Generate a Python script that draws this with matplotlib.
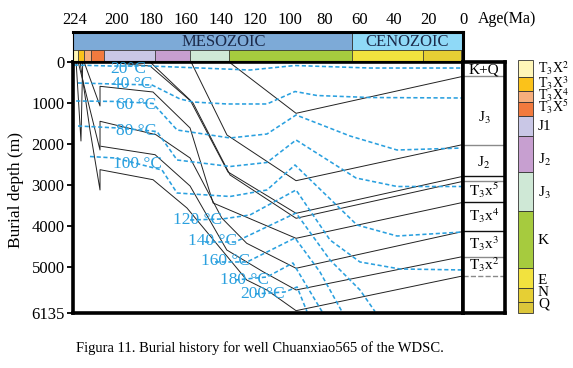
import matplotlib
matplotlib.use('Agg')
import matplotlib.pyplot as plt
from matplotlib.patches import Rectangle

plt.rcParams['font.family'] = ['Liberation Serif', 'DejaVu Serif']
plt.rcParams['mathtext.fontset'] = 'stix'

# ---------------- data ----------------
age_ticks = [224, 200, 180, 160, 140, 120, 100, 80, 60, 40, 20, 0]
depth_ticks = [0, 1000, 2000, 3000, 4000, 5000, 6135]

eras = ['MESOZOIC', 'CENOZOIC']
era_start = [225.2, 64.1]
era_end = [64.1, 0]
era_label_age = [138, 32]

periods = ['T3X2', 'T3X3', 'T3X4', 'T3X5', 'J1', 'J2', 'J3', 'K', 'E', 'N', 'Q']
period_start = [225.2, 222.3, 218.8, 214.8, 207.3, 177.8, 157.6, 135.1, 64.1, 23.1, 1.0]
period_end = [222.3, 218.8, 214.8, 207.3, 177.8, 157.6, 135.1, 64.1, 23.1, 1.0, 0]
period_colors = ['#FFF6B8', '#FBC21A', '#F7AE7C', '#F27A3E', '#C9C7E6', '#C79FD0',
                 '#CFE8D6', '#A6CB3E', '#F2E23E', '#E6CF34', '#DCC63A']
legend_labels = [r'T$_3$X$^2$', r'T$_3$X$^3$', r'T$_3$X$^4$', r'T$_3$X$^5$', 'J1',
                 r'J$_2$', r'J$_3$', 'K', 'E', 'N', 'Q']

# burial curves of the horizons (age Ma, depth m)
h1_age = [135.1, 96.4, 0]
h1_depth = [0, 1254, 350]
h2_age = [157.0, 136.3, 96.4, 0]
h2_depth = [0, 1784, 2901, 2017]
h3_age = [180.7, 157.6, 135.7, 96.4, 0]
h3_depth = [0, 929, 2688, 3698, 2794]
h4_age = [207.3, 180.7, 155.9, 134.5, 96.4, 0]
h4_depth = [0, 98, 1002, 2762, 3820, 2917]
h5_age = [218.8, 209.6, 209.6, 179.0, 157.6, 144.3, 96.4, 0]
h5_depth = [0, 1075, 594, 733, 1613, 3446, 4309, 3431]
h6_age = [222.2, 209.6, 209.6, 177.3, 157.6, 139.3, 124.9, 96.4, 0]
h6_depth = [0, 2151, 1449, 1777, 2346, 3813, 4431, 5042, 4142]
h7_age = [209.0, 177.8, 157.6, 136.4, 115.5, 96.4, 0]
h7_depth = [2060, 2266, 3031, 4595, 5125, 5572, 4755]
h8_age = [221.1, 215.4, 209.6, 209.6, 179.0, 159.4, 124.9, 113.3, 96.4, 0]
h8_depth = [0, 1662, 3128, 2632, 2877, 3568, 5328, 5572, 6078, 5228]
early_age = [223.4, 220.6, 219.6]
early_depth = [0, 1931, 0]

horizon_ages = [h1_age, h2_age, h3_age, h4_age, h5_age, h6_age, h7_age, h8_age, early_age]
horizon_depths = [h1_depth, h2_depth, h3_depth, h4_depth, h5_depth, h6_depth, h7_depth,
                  h8_depth, early_depth]

# isotherms
iso_temps = [20, 40, 60, 80, 100, 120, 140, 160, 180, 200]
t20_age = [224.6, 203.8, 180.7, 151.8, 123.0, 97.0, 53.7, 0]
t20_depth = [73, 98, 98, 147, 196, 86, 147, 147]
t40_age = [222.3, 201.5, 179.6, 163.4, 155.9, 136.3, 113.2, 97.0, 84.3, 53.7, 0]
t40_depth = [513, 538, 562, 904, 978, 1026, 1026, 721, 819, 868, 880]
t60_age = [223.4, 199.2, 179.0, 165.1, 134.5, 113.2, 96.4, 65.2, 38.1, 0]
t60_depth = [953, 965, 1014, 1662, 1857, 1760, 1295, 1809, 2151, 2102]
t80_age = [222.3, 199.2, 176.7, 165.1, 134.5, 113.2, 96.4, 61.8, 38.1, 0]
t80_depth = [1564, 1613, 1699, 2395, 2554, 2456, 1906, 2835, 3043, 3043]
t100_age = [215.4, 200.9, 173.8, 165.1, 134.5, 113.2, 97.0, 61.2, 38.1, 0]
t100_depth = [2310, 2346, 2640, 3202, 3287, 3128, 2517, 3984, 4253, 4155]
t120_age = [157.6, 139.1, 123.0, 96.4, 76.8, 59.5, 36.4, 0]
t120_depth = [3862, 3837, 3739, 3128, 4350, 4888, 5059, 5083]
t140_age = [149.0, 131.6, 96.4, 76.8, 59.5, 50.8]
t140_depth = [4399, 4399, 3690, 4839, 5572, 6100]
t160_age = [143.2, 124.7, 97.0, 82.6, 69.9]
t160_depth = [4888, 4888, 4301, 5132, 6100]
t180_age = [131.6, 113.2, 98.2, 81.4]
t180_depth = [5328, 5255, 4912, 6100]
t200_age = [120.1, 102.8, 95.8, 90.1]
t200_depth = [5670, 5621, 5499, 6100]

iso_ages = [t20_age, t40_age, t60_age, t80_age, t100_age, t120_age, t140_age,
            t160_age, t180_age, t200_age]
iso_depths = [t20_depth, t40_depth, t60_depth, t80_depth, t100_depth, t120_depth,
              t140_depth, t160_depth, t180_depth, t200_depth]
iso_label_age = [193.4, 191.1, 188.8, 188.8, 188.2, 153.0, 144.9, 137.4, 125.9, 115.5]
iso_label_depth = [171, 538, 1039, 1686, 2493, 3862, 4387, 4876, 5328, 5670]

# present-day stratigraphic column
strata_names = ['K+Q', r'J$_3$', r'J$_2$', r'T$_3$x$^5$', r'T$_3$x$^4$', r'T$_3$x$^3$', r'T$_3$x$^2$']
strata_label_depth = [196, 1369, 2468, 3128, 3764, 4448, 4961]
strata_tops = [350, 2017, 2794, 2917, 3431, 4142, 4755, 5228]
strata_line_colors = ['#8a8a8a', '#8a8a8a', '#111111', '#8a8a8a', '#111111', '#111111',
                      '#8a8a8a', '#8a8a8a']
strata_line_styles = ['-', '-', '-', '-', '-', '-', '-', '--']

BLUE = '#2AA0DF'
W, H = 573, 368

fig = plt.figure(figsize=(W / 100, H / 100), dpi=100)


def px_axes(x0, y0, x1, y1):
    return fig.add_axes([x0 / W, 1 - y1 / H, (x1 - x0) / W, (y1 - y0) / H])


# main burial plot
ax = px_axes(73, 62, 463, 313)
ax.set_xlim(225.2, 0)
ax.set_ylim(6135, 0)
for a, d in zip(horizon_ages, horizon_depths):
    ax.plot(a, d, color='#222222', lw=0.7)
for a, d in zip(iso_ages, iso_depths):
    ax.plot(a, d, color=BLUE, lw=1.15, ls=(0, (2.6, 1.6)))
for t, a, d in zip(iso_temps, iso_label_age, iso_label_depth):
    txt = f'{t}°C' if t in (20, 200) else f'{t} °C'
    ax.text(a, d, txt, color=BLUE, fontsize=12.5, ha='center', va='center')
ax.set_xticks([])
ax.set_yticks(depth_ticks)
ax.tick_params(axis='y', direction='out', length=4, width=1.3, labelsize=12, pad=2)
for s in ax.spines.values():
    s.set_linewidth(2.6)
ax.set_ylabel('Burial depth (m)', fontsize=12.5)
ax.yaxis.set_label_coords(-0.125, 0.49)

# era / period bar
ax_era = px_axes(73, 32, 463, 61)
ax_era.set_xlim(225.2, 0)
ax_era.set_ylim(0, 1)
for name, s, e, la, in zip(eras, era_start, era_end, era_label_age):
    col = '#7DAAD7' if name == 'MESOZOIC' else '#8FD9F7'
    ax_era.add_patch(Rectangle((e, 0.38), s - e, 0.62, facecolor=col,
                               edgecolor='#333333', lw=0.6))
    ax_era.text(la, 0.64, name, ha='center', va='center', fontsize=12, color='#1B2A4A')
for s, e, c in zip(period_start, period_end, period_colors):
    ax_era.add_patch(Rectangle((e, 0), s - e, 0.38, facecolor=c, edgecolor='#333333', lw=0.5))
ax_era.xaxis.tick_top()
ax_era.set_xticks(age_ticks)
ax_era.tick_params(axis='x', length=0, labelsize=12, pad=3)
ax_era.set_yticks([])
for k, s in ax_era.spines.items():
    s.set_linewidth(2.2 if k in ('top', 'right') else 0.8)
fig.text(478 / W, 1 - 19 / H, 'Age(Ma)', fontsize=11.5, va='center', ha='left')

# stratigraphic column
ax_col = px_axes(463, 62, 505, 313)
ax_col.set_xlim(0, 1)
ax_col.set_ylim(6135, 0)
for d, c, ls in zip(strata_tops, strata_line_colors, strata_line_styles):
    ax_col.plot([0, 1], [d, d], color=c, lw=1.0, ls=ls)
for name, d in zip(strata_names, strata_label_depth):
    ax_col.text(0.5, d, name, ha='center', va='center', fontsize=11)
ax_col.set_xticks([])
ax_col.set_yticks([])
for s in ax_col.spines.values():
    s.set_linewidth(2.6)

# colour legend
leg = fig.add_axes([0, 0, 1, 1])
leg.set_xlim(0, W)
leg.set_ylim(H, 0)
leg.axis('off')
leg.patch.set_alpha(0)
legend_edges = [60, 76.7, 91, 102.3, 115.7, 135.7, 172.3, 211, 268.3, 288.3, 301.7, 313.3]
legend_text_y = [68, 83, 95, 107, 126, 160, 193, 240, 281, 293, 304]
for i, (c, lab) in enumerate(zip(period_colors, legend_labels)):
    leg.add_patch(Rectangle((518, legend_edges[i]), 15, legend_edges[i + 1] - legend_edges[i],
                            facecolor=c, edgecolor='#333333', lw=0.6))
    leg.text(538, legend_text_y[i], lab, fontsize=11 if i > 3 else 10,
             va='center', ha='left')

fig.text(260 / W, 1 - 348 / H, 'Figura 11. Burial history for well Chuanxiao565 of the WDSC.',
         ha='center', va='center', fontsize=10.5)

fig.savefig('out.png', dpi=100)
